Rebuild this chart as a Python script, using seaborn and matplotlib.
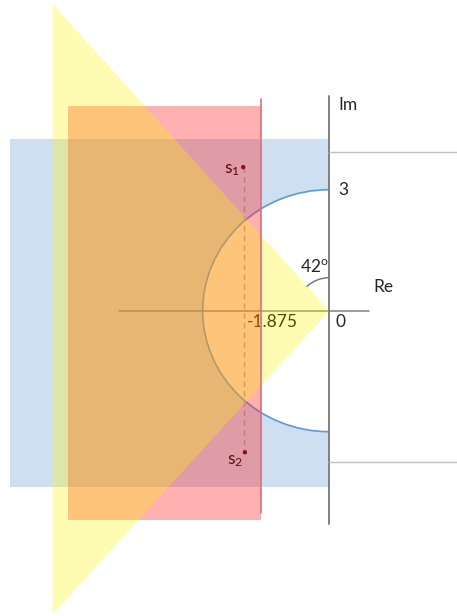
import numpy as np
import pandas as pd
import seaborn as sns
import matplotlib.pyplot as plt
from matplotlib.patches import Rectangle, Polygon, Ellipse, Arc

# s-plane sketch values (in diagram units)
radius = 3
sigma_line = -1.63          # drawn position of the -1.875 boundary
sigma_label = "-1.875"
angle_deg = 42
pole_re = [-2.04, -2.0]
pole_im = [3.56, -3.51]
pole_names = ["s$_1$", "s$_2$"]
blue_box = [-7.566, -4.364, 0.0, 4.25]      # x0, y0, x1, y1
red_box = [-6.192, -5.19, sigma_line, 5.076]
cone_left = -6.555
cone_top = 7.605
cone_bottom = -7.52
freq_lines = [3.93, -3.76]

sns.set_theme(style="white")
plt.rcParams["font.family"] = ["Lato", "DejaVu Sans"]
plt.rcParams["mathtext.default"] = "regular"
fs = 12.5

fig = plt.figure(figsize=(4.57, 6.16), dpi=100)
ax = fig.add_axes([0, 0, 1, 1])
ax.set_xlim(-7.803, 3.026)
ax.set_ylim(-7.570, 7.704)
ax.axis("off")

# blue region: box minus the disc of radius 3
ax.add_patch(Rectangle((blue_box[0], blue_box[1]), blue_box[2] - blue_box[0],
                       blue_box[3] - blue_box[1], facecolor="#cddff0",
                       edgecolor="none", zorder=1))
ax.add_patch(Ellipse((0, 0), 2 * radius, 2 * radius, facecolor="white",
                     edgecolor="none", zorder=2))
ax.add_patch(Arc((0, 0), 2 * radius, 2 * radius, theta1=90, theta2=270,
                 color="#5b9bd5", lw=1.2, zorder=3))

# real axis, dashed pole link and poles (under the overlays)
ax.plot([-4.98, 0.94], [0, 0], color="#808080", lw=1.1, zorder=3)
ax.plot([-2.02, -2.02], pole_im, color="#a8a8a8", lw=1, ls=(0, (4, 3)), zorder=3)
poles = pd.DataFrame({"re": pole_re, "im": pole_im})
sns.scatterplot(data=poles, x="re", y="im", color="#3a0a14", s=10,
                edgecolor="none", ax=ax, zorder=4, legend=False)
ax.text(-2.11, 3.48, pole_names[0], fontsize=fs, ha="right", va="center", color="black", zorder=4)
ax.text(-2.42, -3.72, pole_names[1], fontsize=fs, ha="left", va="center", color="black", zorder=4)
ax.text(-1.95, -0.28, sigma_label, fontsize=fs, ha="left", va="center", color="black", zorder=4)

# red half plane (sigma < -1.875) and yellow damping cone
ax.add_patch(Rectangle((red_box[0], red_box[1]), red_box[2] - red_box[0],
                       red_box[3] - red_box[1], facecolor=(1.0, 0.14, 0.14),
                       alpha=0.36, edgecolor="none", zorder=5))
ax.add_patch(Polygon([(0, 0), (cone_left, cone_top), (cone_left, cone_bottom)],
                     closed=True, facecolor=(0.99, 0.97, 0.0), alpha=0.3,
                     edgecolor="none", zorder=6))
ax.plot([sigma_line, sigma_line], [5.25, -5.02], color="#d9707a", lw=1.2, zorder=7)

# imaginary axis and frequency limits
ax.plot([0, 0], [5.32, -5.29], color="#808080", lw=1.4, zorder=8)
for v in freq_lines:
    ax.plot([0, 3.1], [v, v], color="#c0c0c0", lw=1, zorder=8)

# angle marker
ax.add_patch(Arc((0, 0), 2 * 33 / 42.2, 2 * 33 / 40.33, theta1=90,
                 theta2=90 + angle_deg, color="#707070", lw=1, zorder=8))

ax.text(0.21, 5.10, "Im", fontsize=fs, ha="left", va="center", zorder=9)
ax.text(0.21, 3.0, str(radius), fontsize=fs, ha="left", va="center", zorder=9)
ax.text(1.04, 0.59, "Re", fontsize=fs, ha="left", va="center", zorder=9)
ax.text(0.14, -0.28, "0", fontsize=fs, ha="left", va="center", zorder=9)
ax.text(-0.70, 1.09, f"{angle_deg}$^{{o}}$", fontsize=fs, ha="left", va="center", zorder=9)

fig.savefig("out.png", dpi=100)
